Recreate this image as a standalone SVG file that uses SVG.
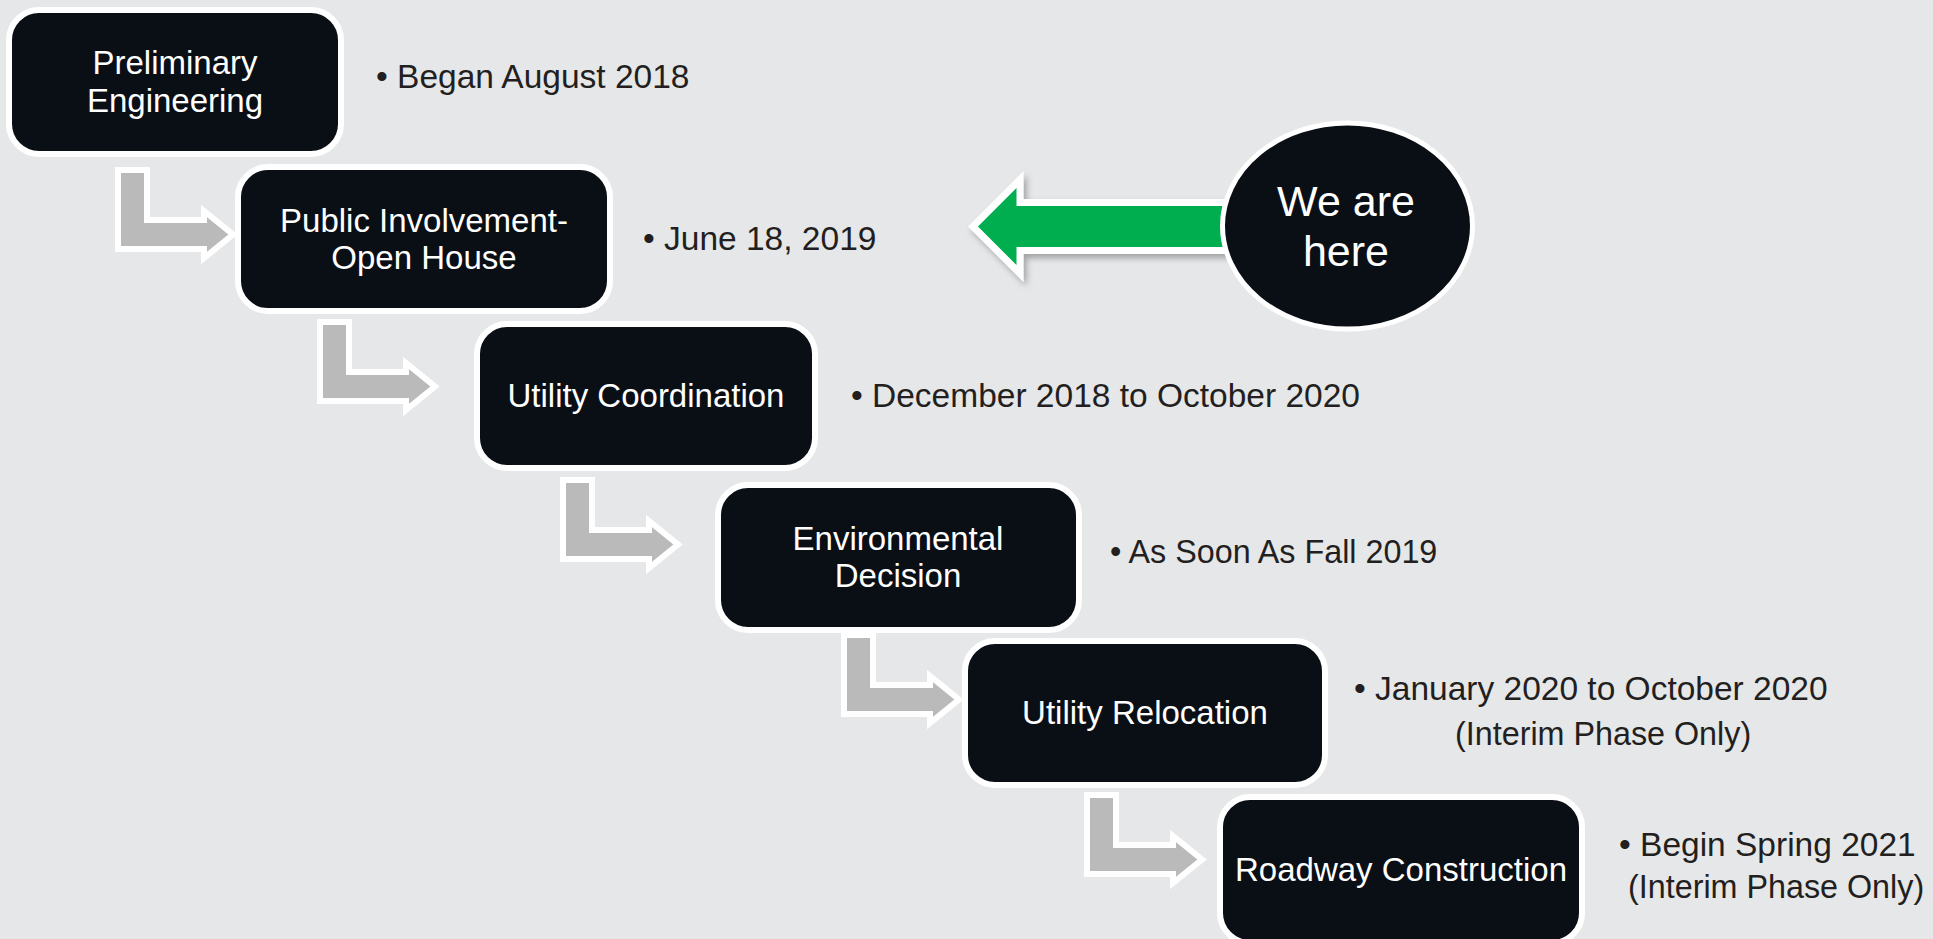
<svg xmlns="http://www.w3.org/2000/svg" width="1933" height="939" viewBox="0 0 1933 939">
<defs>
<style>
.box{fill:#0A0F16;stroke:#FFFFFF;stroke-width:6}
.bt{font-family:"Liberation Sans",Arial,sans-serif;font-size:33px;fill:#FFFFFF;text-anchor:middle}
.rt{font-family:"Liberation Sans",Arial,sans-serif;font-size:33.5px;fill:#231F20}
.rt2{font-family:"Liberation Sans",Arial,sans-serif;font-size:32.3px;fill:#231F20}
.arr{fill:#BABABB;stroke:#FFFFFF;stroke-width:6;stroke-linejoin:miter}
</style>
<path id="bend" d="M0,0 H29 V50 H86 V41 L115,64.5 L86,88 V79 H0 Z"/>
<filter id="sh" x="-10%" y="-20%" width="130%" height="160%">
<feDropShadow dx="3" dy="4" stdDeviation="3" flood-color="#000000" flood-opacity="0.3"/>
</filter>
</defs>
<rect x="0" y="0" width="1933" height="939" fill="#E6E7E8"/>
<g id="connectors">
<use href="#bend" class="arr" transform="translate(118,170)"/>
<use href="#bend" class="arr" transform="translate(320,322)"/>
<use href="#bend" class="arr" transform="translate(563,480)"/>
<use href="#bend" class="arr" transform="translate(844,635)"/>
<use href="#bend" class="arr" transform="translate(1087,795)"/>
<path id="green-arrow" d="M973,226.5 L1020,179.5 V202.5 H1240 V250.5 H1020 V273.5 Z" fill="#00AD4F" stroke="#FFFFFF" stroke-width="7" filter="url(#sh)"/>
</g>
<g id="node-preliminary">
<rect class="box" x="9" y="10" width="332" height="144" rx="30"/>
<text class="bt" x="175" y="74">Preliminary</text>
<text class="bt" x="175" y="112">Engineering</text>
<text class="rt" x="376" y="88">• Began August 2018</text>
</g>
<g id="node-public">
<rect class="box" x="238" y="167" width="372" height="144" rx="30"/>
<text class="bt" x="424" y="232">Public Involvement-</text>
<text class="bt" x="424" y="269">Open House</text>
<text class="rt" x="643" y="250">• June 18, 2019</text>
</g>
<g id="node-utility-coord">
<rect class="box" x="477" y="324" width="338" height="144" rx="30"/>
<text class="bt" x="646" y="407">Utility Coordination</text>
<text class="rt" x="851" y="407">• December 2018 to October 2020</text>
</g>
<g id="node-environmental">
<rect class="box" x="718" y="485" width="361" height="145" rx="30"/>
<text class="bt" x="898" y="550">Environmental</text>
<text class="bt" x="898" y="587">Decision</text>
<text class="rt2" x="1110" y="563">• As Soon As Fall 2019</text>
</g>
<g id="node-utility-reloc">
<rect class="box" x="965" y="641" width="360" height="144" rx="30"/>
<text class="bt" x="1145" y="724">Utility Relocation</text>
<text class="rt" x="1354" y="700">• January 2020 to October 2020</text>
<text class="rt2" x="1455" y="745">(Interim Phase Only)</text>
</g>
<g id="node-roadway">
<rect class="box" x="1220" y="797" width="362" height="146" rx="30"/>
<text class="bt" x="1401" y="881">Roadway Construction</text>
<text class="rt" x="1619" y="856">• Begin Spring 2021</text>
<text class="rt2" x="1628" y="898">(Interim Phase Only)</text>
</g>
<g id="node-we-are-here">
<ellipse cx="1347.5" cy="226" rx="125" ry="103" fill="#0A0F16" stroke="#FFFFFF" stroke-width="5"/>
<text x="1346" y="216" font-family="Liberation Sans, Arial, sans-serif" font-size="43" fill="#FFFFFF" text-anchor="middle">We are</text>
<text x="1346" y="266" font-family="Liberation Sans, Arial, sans-serif" font-size="43" fill="#FFFFFF" text-anchor="middle">here</text>
</g>
</svg>
